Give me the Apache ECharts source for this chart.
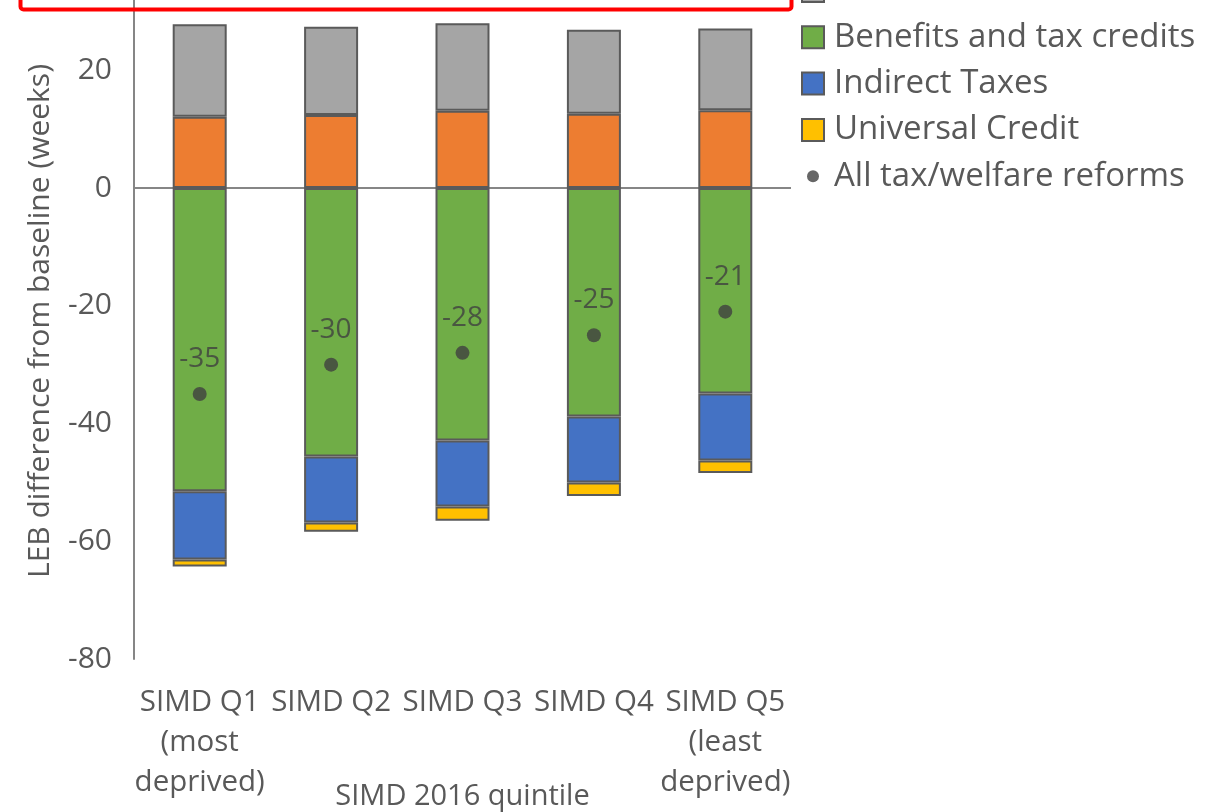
<!DOCTYPE html>
<html>
<head>
<meta charset="utf-8">
<script src="https://cdn.jsdelivr.net/npm/echarts@6/dist/echarts.min.js"></script>
<style>
  html, body { margin: 0; padding: 0; width: 1222px; height: 812px; overflow: hidden; background: #fff; }
  #chart { position: absolute; left: 0; top: -100px; width: 1222px; height: 912px; }
</style>
</head>
<body>
<div id="chart"></div>
<script>
// ---- data ----
const categories = ['SIMD Q1\n(most\ndeprived)', 'SIMD Q2', 'SIMD Q3', 'SIMD Q4', 'SIMD Q5\n(least\ndeprived)'];
const directTaxes = [12.1, 12.4, 13.1, 12.6, 13.2];
const grossIncomes = [15.7, 15.0, 14.9, 14.3, 13.9];
const benefits = [-51.5, -45.6, -42.9, -38.8, -34.9];
const indirectTaxes = [-11.6, -11.2, -11.2, -11.2, -11.4];
const universalCredit = [-1.2, -1.6, -2.4, -2.3, -2.1];
const allReforms = [-35, -30, -28, -25, -21];
const yTicks = { min: -80, max: 40, interval: 20 };
const yTitle = 'LEB difference from baseline (weeks)';

const OFF = 100; // div is shifted up by this many px (chart is cropped at top)
const FONT = 'Open Sans';
const TXT = '#595959';
const BORDER = '#5a5a5a';

function barSeries(name, data, color) {
  return {
    name: name, type: 'bar', stack: 'total', data: data, barWidth: 54,
    itemStyle: { color: color, borderColor: BORDER, borderWidth: 2 }
  };
}

const series = [
  barSeries('Direct Taxes', directTaxes, '#ED7D31'),
  barSeries('Gross incomes', grossIncomes, '#A5A5A5'),
  barSeries('Benefits and tax credits', benefits, '#70AD47'),
  barSeries('Indirect Taxes', indirectTaxes, '#4472C4'),
  barSeries('Universal Credit', universalCredit, '#FFC000'),
  {
    name: 'All tax/welfare reforms', type: 'scatter', data: allReforms,
    symbol: 'circle', symbolSize: 14, z: 5,
    itemStyle: { color: '#404040' },
    label: { show: true, position: 'top', distance: 14, color: '#404040',
             fontFamily: FONT, fontSize: 28, lineHeight: 28 }
  }
];
series[0].markLine = {
  silent: true, symbol: ['none', 'none'], label: { show: false },
  lineStyle: { color: '#868686', width: 2, type: 'solid' },
  data: [{ yAxis: 0 }], z: 1
};

const dotIcon = 'path://M0 0M22 22M5 11A6 6 0 1 1 17 11A6 6 0 1 1 5 11Z';

const option = {
  animation: false,
  backgroundColor: '#ffffff',
  textStyle: { fontFamily: FONT },
  grid: { left: 134, right: 1222 - 791, top: 52.5, height: 706.5, containLabel: false, outerBoundsMode: 'none' },
  legend: {
    orient: 'vertical', left: 801, top: 28.2, padding: 0,
    itemWidth: 22, itemHeight: 22, itemGap: 13.3,
    textStyle: { color: TXT, fontFamily: FONT, fontSize: 33, lineHeight: 30, padding: [0, 0, 0, 5] },
    data: [
      { name: 'Direct Taxes', icon: 'rect' },
      { name: 'Gross incomes', icon: 'rect' },
      { name: 'Benefits and tax credits', icon: 'rect' },
      { name: 'Indirect Taxes', icon: 'rect' },
      { name: 'Universal Credit', icon: 'rect' },
      { name: 'All tax/welfare reforms', icon: dotIcon }
    ]
  },
  xAxis: {
    type: 'category', data: categories,
    axisLine: { show: false }, axisTick: { show: false },
    axisLabel: { color: TXT, fontFamily: FONT, fontSize: 29.5, lineHeight: 40, margin: 24, interval: 0 },
    name: 'SIMD 2016 quintile', nameLocation: 'middle', nameGap: 124, nameMoveOverlap: false,
    nameTextStyle: { color: TXT, fontFamily: FONT, fontSize: 29, lineHeight: 28 }
  },
  yAxis: {
    type: 'value', min: yTicks.min, max: yTicks.max, interval: yTicks.interval,
    axisLine: { show: true, lineStyle: { color: '#868686', width: 2 } },
    axisTick: { show: false }, splitLine: { show: false },
    axisLabel: { color: TXT, fontFamily: FONT, fontSize: 30, margin: 22 }
  },
  graphic: [{
    type: 'rect', z: 100,
    shape: { x: 20.5, y: OFF - 60, width: 771, height: 70 - 0.5, r: 3 },
    style: { fill: 'none', stroke: '#FF0000', lineWidth: 4 }
  }, {
    type: 'text', x: 40, y: OFF + 321, rotation: Math.PI / 2,
    style: { text: yTitle, fill: TXT, font: '30px "Open Sans"', align: 'center', verticalAlign: 'middle' }
  }],
  series: series
};

const chart = echarts.init(document.getElementById('chart'), null, { renderer: 'canvas' });
chart.setOption(option);
</script>
</body>
</html>
